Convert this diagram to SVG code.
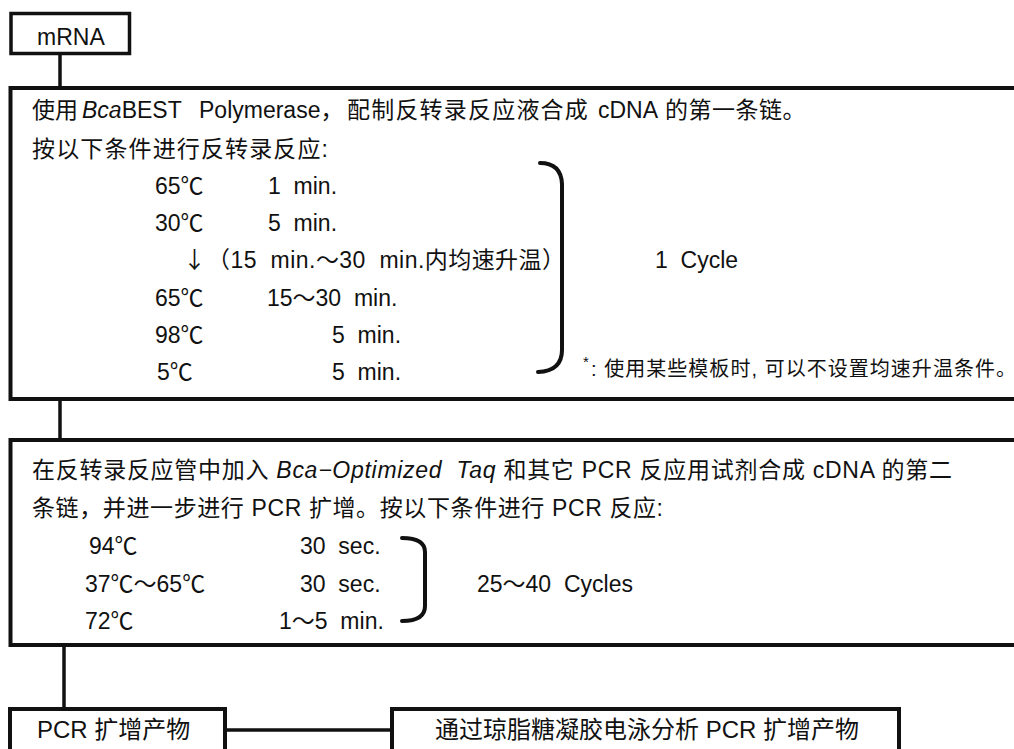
<svg xmlns="http://www.w3.org/2000/svg" width="1014" height="749" viewBox="0 0 1014 749" xml:space="preserve">
<style>
text { font-family: "Liberation Sans", "Noto Sans CJK SC", sans-serif; font-size: 23px; fill: #111; white-space: pre; }
.it { font-style: italic; }
.cjk { font-family: "Noto Sans CJK SC", sans-serif; }
.box { fill: #fff; stroke: #111; stroke-width: 4; }
.ln { fill: none; stroke: #111; stroke-width: 3.5; }
.br { fill: none; stroke: #111; stroke-width: 4; stroke-linecap: round; }
.fn { font-size: 20px; }
.big { font-size: 24px; }
</style>
<rect width="1014" height="749" fill="#fff"/>
<g id="connectors">
<line class="ln" x1="60" y1="54" x2="60" y2="88"/>
<line class="ln" x1="60" y1="399" x2="60" y2="440"/>
<line class="ln" x1="64" y1="645" x2="64" y2="709"/>
<line class="ln" x1="225" y1="730" x2="392" y2="730"/>
</g>
<g id="mrna">
<rect class="box" x="11" y="13.5" width="118.5" height="40" style="stroke-width:3.5"/>
<text x="37" y="45">mRNA</text>
</g>
<g id="rt-step">
<rect class="box" x="10.5" y="88" width="1020" height="311"/>
<text y="118"><tspan x="32">使用</tspan><tspan x="82" class="it">Bca</tspan><tspan>BEST</tspan><tspan x="199">Polymerase，</tspan><tspan x="347" style="letter-spacing:1.2px">配制反转录反应液合成</tspan><tspan x="598">cDNA</tspan><tspan x="665" style="letter-spacing:0.5px">的第一条链。</tspan></text>
<text x="32" y="157" textLength="296" lengthAdjust="spacing">按以下条件进行反转录反应:</text>
<text x="155" y="194">65℃</text><text x="268" y="194">1  min.</text>
<text x="155" y="231">30℃</text><text x="268" y="231">5  min.</text>
<text class="cjk" x="183" y="268">↓</text><text x="207" y="268" textLength="358" lengthAdjust="spacing">（15  min.～30  min.内均速升温）</text>
<text x="155" y="306">65℃</text><text x="267" y="306">15～30  min.</text>
<text x="155" y="343">98℃</text><text x="332" y="343">5  min.</text>
<text x="157" y="380">5℃</text><text x="332" y="380">5  min.</text>
<path class="br" d="M540,163 Q561,163 562,184 L562,350 Q562,371 538,372"/>
<text x="655" y="268">1  Cycle</text>
<text x="583" y="367" style="font-size:15px">*</text>
<text class="fn" x="591" y="376" textLength="425" lengthAdjust="spacing">: 使用某些模板时, 可以不设置均速升温条件。</text>
</g>
<g id="pcr-step">
<rect class="box" x="10.5" y="440" width="1020" height="205"/>
<text x="32" y="478" textLength="920" lengthAdjust="spacing">在反转录反应管中加入 <tspan class="it">Bca−Optimized  Taq</tspan> 和其它 PCR 反应用试剂合成 cDNA 的第二</text>
<text x="32" y="516" textLength="631" lengthAdjust="spacing">条链，并进一步进行 PCR 扩增。按以下条件进行 PCR 反应:</text>
<text x="89" y="554">94℃</text><text x="300" y="554">30  sec.</text>
<text x="85" y="592">37℃～65℃</text><text x="300" y="592">30  sec.</text>
<text x="85" y="629">72℃</text><text x="279" y="629">1～5  min.</text>
<path class="br" d="M402,538 Q425,538 425,552 L425,606 Q425,621 402,621"/>
<text x="477" y="592">25～40  Cycles</text>
</g>
<g id="pcr-product">
<rect class="box" x="10" y="709" width="215" height="60"/>
<text class="big" x="37" y="738">PCR 扩增产物</text>
</g>
<g id="analysis">
<rect class="box" x="392" y="709" width="507" height="60"/>
<text class="big" x="435" y="738">通过琼脂糖凝胶电泳分析 PCR 扩增产物</text>
</g>
</svg>
